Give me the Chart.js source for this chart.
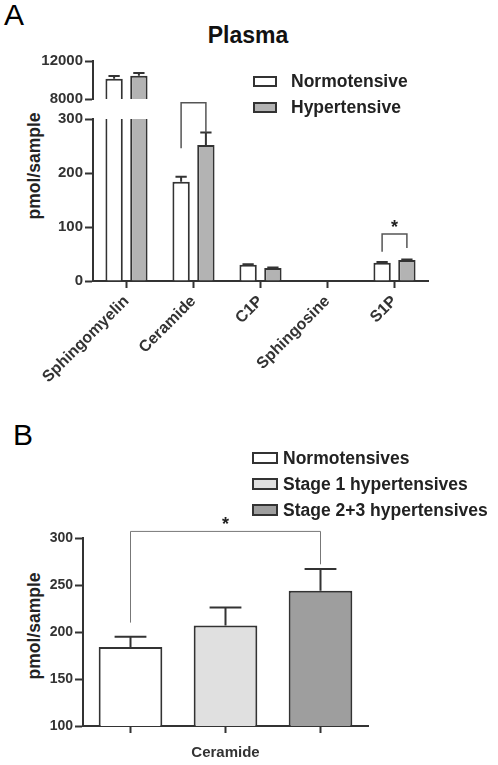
<!DOCTYPE html>
<html>
<head>
<meta charset="utf-8">
<script src="https://cdn.jsdelivr.net/npm/chart.js@4.4.1/dist/chart.umd.min.js"></script>
<style>
  body { margin: 0; background: #fff; }
  #page { position: relative; width: 498px; height: 765px; overflow: hidden; font-family: 'Liberation Sans', Arial, sans-serif; color: #333; }
  .box { position: absolute; left: 0; width: 498px; }
  .txt { position: absolute; white-space: nowrap; }
  .panel { font-size: 30px; line-height: 30px; color: #000; }
  .ytitle { font-weight: bold; font-size: 17.5px; color: #222; transform: translate(-50%, -50%) rotate(-90deg); }
  .legend { position: absolute; font-weight: bold; font-size: 17.5px; color: #222; }
  .legend .row { display: flex; align-items: center; height: 26px; }
  .legend .sw { box-sizing: border-box; border: 2px solid #333; }
</style>
</head>
<body>
<div id="page">
  <div class="txt panel" style="left:4px;top:0">A</div>
  <div class="txt" style="left:248px;top:35px;transform:translate(-50%,-50%);font-weight:bold;font-size:23px;color:#111">Plasma</div>
  <div class="txt ytitle" style="left:34px;top:166px">pmol/sample</div>
  <div class="box" style="top:0;height:110px"><canvas id="plasma-upper"></canvas></div>
  <div class="box" style="top:100px;height:300px"><canvas id="plasma-lower"></canvas></div>
  <div id="legend-a" class="legend" style="left:253px;top:68px"></div>

  <div class="txt panel" style="left:13px;top:420px">B</div>
  <div class="txt ytitle" style="left:34px;top:626px">pmol/sample</div>
  <div class="box" style="top:480px;height:285px"><canvas id="ceramide-stage"></canvas></div>
  <div id="legend-b" class="legend" style="left:252px;top:445px"></div>
</div>
<script>
// panel A: plasma sphingolipids
const lipids = ['Sphingomyelin', 'Ceramide', 'C1P', 'Sphingosine', 'S1P'];
const normoMean = [10130, 184, 30, 0, 34];
const normoErr = [300, 9, 1, 0, 1];
const hyperMean = [10440, 252, 24, 0, 39];
const hyperErr = [300, 23, 1, 0, 1];
const plasmaSeries = ['Normotensive', 'Hypertensive'];
const plasmaColors = ['#ffffff', '#b3b3b3'];
const upperTicks = [8000, 12000];
const lowerTicks = [0, 100, 200, 300];
// significance brackets, in data units
const plasmaBrackets = [
    { from: [0, 1], to: [1, 1], top: 330, legs: [246, 275] },
    { from: [0, 4], to: [1, 4], top: 87, legs: [54, 61] }
];

// panel B: ceramide by stage
const stageGroups = ['Normotensives', 'Stage 1 hypertensives', 'Stage 2+3 hypertensives'];
const ceramideMean = [184, 207, 244];
const ceramideErr = [11, 19, 23];
const stageColors = ['#ffffff', '#e0e0e0', '#9e9e9e'];
const stageTicks = [100, 150, 200, 250, 300];
const stageBrackets = [{ from: [0, 0], to: [0, 2], top: 307, legs: [210, 272] }];

const FONT = "'Liberation Sans', Arial, sans-serif";
const INK = '#333';

const errorBars = (capRatio) => ({
    id: 'errorBars',
    afterDatasetsDraw(chart) {
        const { ctx, scales: { y } } = chart;
        ctx.save();
        ctx.strokeStyle = INK;
        ctx.lineWidth = 2;
        chart.data.datasets.forEach((ds, di) => {
            chart.getDatasetMeta(di).data.forEach((bar, i) => {
                const v = ds.data[i], e = ds.errors[i];
                if (v == null || !e || v > y.max || v < y.min) return;
                const top = y.getPixelForValue(v + e);
                const half = bar.width * capRatio / 2;
                ctx.beginPath();
                ctx.moveTo(bar.x, bar.y);
                ctx.lineTo(bar.x, top);
                ctx.moveTo(bar.x - half, top);
                ctx.lineTo(bar.x + half, top);
                ctx.stroke();
            });
        });
        ctx.restore();
    }
});

const brackets = (list, color, width) => ({
    id: 'brackets',
    afterDatasetsDraw(chart) {
        const { ctx, scales: { y } } = chart;
        const xOf = ([di, i]) => chart.getDatasetMeta(di).data[i].x;
        ctx.save();
        ctx.strokeStyle = color;
        ctx.lineWidth = width;
        ctx.fillStyle = '#222';
        ctx.font = `bold 18px ${FONT}`;
        ctx.textAlign = 'center';
        ctx.textBaseline = 'alphabetic';
        list.forEach(b => {
            const x1 = xOf(b.from), x2 = xOf(b.to);
            const top = y.getPixelForValue(b.top);
            ctx.beginPath();
            ctx.moveTo(x1, y.getPixelForValue(b.legs[0]));
            ctx.lineTo(x1, top);
            ctx.lineTo(x2, top);
            ctx.lineTo(x2, y.getPixelForValue(b.legs[1]));
            ctx.stroke();
            ctx.fillText('*', (x1 + x2) / 2, top - 1);
        });
        ctx.restore();
    }
});

const axisStyle = (tickLength) => ({
    border: { display: true, color: INK, width: 2 },
    grid: { drawOnChartArea: false, drawTicks: true, tickLength, tickWidth: 2, tickColor: INK, offset: false }
});

const yAxis = (min, max, ticks, width, size) => ({
    ...axisStyle(8),
    min, max,
    afterBuildTicks: s => { s.ticks = ticks.map(value => ({ value })); },
    afterFit: s => { s.width = width; },
    ticks: { color: INK, padding: 2, callback: v => String(v), font: { family: FONT, size, weight: 'bold' } }
});

const plasmaDatasets = (keep) => [normoMean, hyperMean].map((vals, k) => ({
    label: plasmaSeries[k],
    data: vals.map(keep),
    errors: [normoErr, hyperErr][k],
    backgroundColor: plasmaColors[k],
    borderColor: INK,
    borderWidth: 2,
    borderSkipped: 'start',
    categoryPercentage: 0.74,
    barPercentage: 0.7
}));

const baseOptions = {
    responsive: true,
    maintainAspectRatio: false,
    animation: false,
    plugins: { legend: { display: false }, tooltip: { enabled: false } }
};

// upper segment of the broken axis
new Chart(document.getElementById('plasma-upper'), {
    type: 'bar',
    data: { labels: lipids, datasets: plasmaDatasets(v => (v > upperTicks[0] ? v : null)) },
    options: {
        ...baseOptions,
        layout: { padding: { top: 61, right: 70, bottom: 10.5, left: 0 } },
        scales: {
            x: { display: false },
            y: yAxis(upperTicks[0], upperTicks[upperTicks.length - 1], upperTicks, 93, 15)
        }
    },
    plugins: [errorBars(0.65)]
});

// lower segment, with the category axis
new Chart(document.getElementById('plasma-lower'), {
    type: 'bar',
    data: { labels: lipids, datasets: plasmaDatasets(v => v) },
    options: {
        ...baseOptions,
        layout: { padding: { top: 19, right: 70, bottom: 0, left: 0 } },
        scales: {
            x: {
                ...axisStyle(7),
                afterFit: s => { s.height = 119; },
                ticks: { color: INK, padding: 4, autoSkip: false, minRotation: 45, maxRotation: 45,
                    font: { family: FONT, size: 16, weight: 'bold' } }
            },
            y: yAxis(lowerTicks[0], lowerTicks[lowerTicks.length - 1], lowerTicks, 93, 15)
        }
    },
    plugins: [errorBars(0.65), brackets(plasmaBrackets, '#555', 1.5)]
});

new Chart(document.getElementById('ceramide-stage'), {
    type: 'bar',
    data: {
        labels: stageGroups,
        datasets: [{
            label: 'Ceramide',
            data: ceramideMean,
            errors: ceramideErr,
            backgroundColor: stageColors,
            borderColor: INK,
            borderWidth: 2,
            borderSkipped: 'start',
            categoryPercentage: 1,
            barPercentage: 0.67
        }]
    },
    options: {
        ...baseOptions,
        layout: { padding: { top: 58, right: 130, bottom: 0, left: 0 } },
        scales: {
            x: {
                ...axisStyle(7),
                afterFit: s => { s.height = 39; },
                ticks: { callback: () => '' },
                title: { display: true, text: 'Ceramide', color: INK, padding: { top: 0, bottom: 3 },
                    font: { family: FONT, size: 15, weight: 'bold' } }
            },
            y: yAxis(stageTicks[0], stageTicks[stageTicks.length - 1], stageTicks, 83, 14)
        }
    },
    plugins: [errorBars(0.5), brackets(stageBrackets, '#777', 1)]
});

// legends built from the series names
const buildLegend = (id, names, colors, sw) => {
    document.getElementById(id).innerHTML = names.map((n, i) => `
        <div class="row"><span class="sw" style="width:${sw[0]}px;height:${sw[1]}px;margin-right:${sw[2]}px;background:${colors[i]}"></span>${n}</div>`).join('');
};
buildLegend('legend-a', plasmaSeries, plasmaColors, [24, 11, 14]);
buildLegend('legend-b', stageGroups, stageColors, [26, 12, 5]);
</script>
</body>
</html>
